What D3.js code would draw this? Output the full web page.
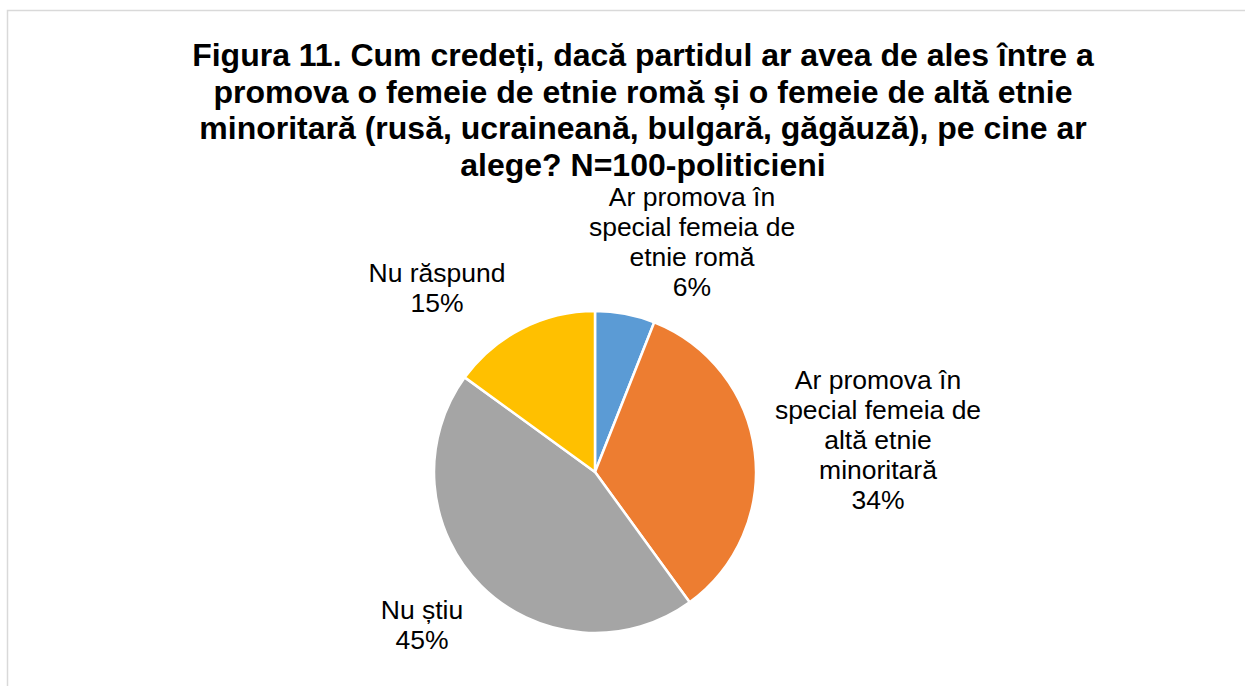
<!DOCTYPE html>
<meta charset="utf-8">
<script src="https://d3js.org/d3.v7.min.js"></script>
<style>
  body { margin: 0; background: #fff; }
  text { font-family: "Liberation Sans", Arial, sans-serif; }
</style>
<div id="chart"></div>
<script>
// data
var categories = [
  ["Ar promova în", "special femeia de", "etnie romă"],
  ["Ar promova în", "special femeia de", "altă etnie", "minoritară"],
  ["Nu știu"],
  ["Nu răspund"]
];
var values = [6, 34, 45, 15];
var colors = ["#5B9BD5", "#ED7D31", "#A5A5A5", "#FFC000"];
var titleLines = [
  "Figura 11. Cum credeți, dacă partidul ar avea de ales între a",
  "promova o femeie de etnie romă și o femeie de altă etnie",
  "minoritară (rusă, ucraineană, bulgară, găgăuză), pe cine ar",
  "alege? N=100-politicieni"
];

// label centres relative to pie centre (layout, like Excel best fit)
var labelOffsets = [[97, -229], [283, -31], [-173, 154], [-158, -183]];

var W = 1245, H = 686;
var cx = 595, cy = 472, r = 161;
var lineH = 30;

var svg = d3.select("#chart").append("svg")
  .attr("width", W).attr("height", H);

// chart area border (runs off right/bottom edge)
svg.append("rect")
  .attr("x", 7.5).attr("y", 10.5)
  .attr("width", 1300).attr("height", 700)
  .attr("fill", "none")
  .attr("stroke", "#d9d9d9")
  .attr("stroke-width", 1.5);

// title
svg.append("text")
  .attr("text-anchor", "middle")
  .attr("font-size", 32)
  .attr("font-weight", "bold")
  .attr("fill", "#000")
  .selectAll("tspan")
  .data(titleLines)
  .enter().append("tspan")
    .attr("x", 643)
    .attr("y", function(d, i) { return 66 + i * 36.7; })
    .text(function(d) { return d; });

var pie = d3.pie().sort(null).value(function(d) { return d; });
var arc = d3.arc().innerRadius(0).outerRadius(r);
var arcs = pie(values);

var g = svg.append("g").attr("transform", "translate(" + cx + "," + cy + ")");

g.selectAll("path")
  .data(arcs)
  .enter().append("path")
    .attr("d", arc)
    .attr("fill", function(d, i) { return colors[i]; })
    .attr("stroke", "#fff")
    .attr("stroke-width", 2.5)
    .attr("stroke-linejoin", "round");

// labels
var fmt = d3.format(".0%");
var total = d3.sum(values);
g.selectAll("text.lbl")
  .data(arcs)
  .enter().append("text")
    .attr("class", "lbl")
    .attr("text-anchor", "middle")
    .attr("font-size", 26.5)
    .attr("fill", "#000")
    .each(function(d, i) {
      var lines = categories[i].concat([fmt(d.value / total)]);
      var off = labelOffsets[i];
      var top = off[1] - (lines.length - 1) * lineH / 2 + 8;
      d3.select(this).selectAll("tspan")
        .data(lines)
        .enter().append("tspan")
          .attr("x", off[0])
          .attr("y", function(t, j) { return top + j * lineH; })
          .text(function(t) { return t; });
    });
</script>
